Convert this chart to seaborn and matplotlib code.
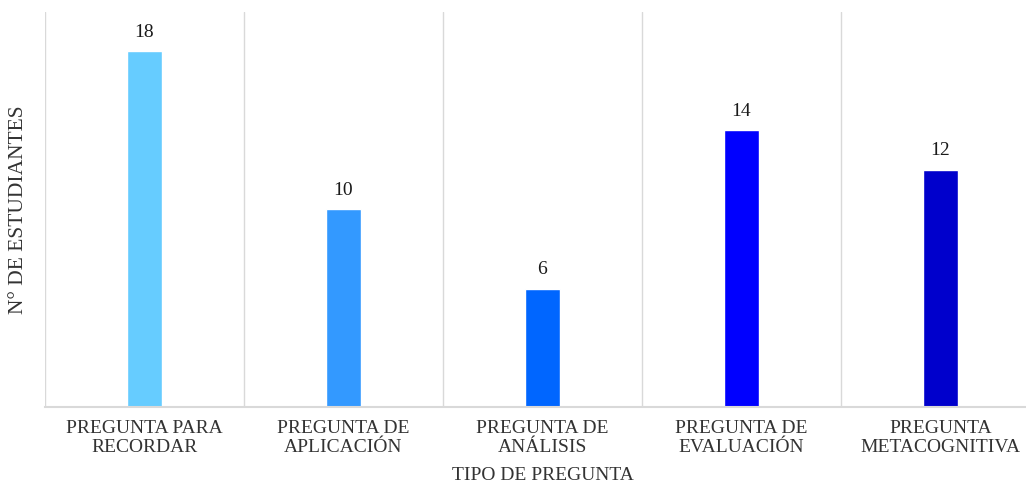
import matplotlib
matplotlib.use("Agg")
import matplotlib.pyplot as plt
import seaborn as sns
import pandas as pd

categories = ["PREGUNTA PARA\nRECORDAR", "PREGUNTA DE\nAPLICACIÓN", "PREGUNTA DE\nANÁLISIS",
              "PREGUNTA DE\nEVALUACIÓN", "PREGUNTA\nMETACOGNITIVA"]
values = [18, 10, 6, 14, 12]
colors = ["#66CCFF", "#3399FF", "#0066FF", "#0000FF", "#0000CC"]

sns.set_style("white")
plt.rcParams['font.family'] = ['Liberation Serif', 'DejaVu Serif']

df = pd.DataFrame({"cat": categories, "val": values})
fig = plt.figure(figsize=(10.26, 4.86), dpi=100)
ax = fig.add_axes([45/1026, (486-407)/486, (1040-45)/1026, (407-12)/486])
sns.barplot(data=df, x="cat", y="val", hue="cat", palette=colors, width=0.18,
            legend=False, ax=ax, saturation=1)
ax.set_xlim(-0.5, 4.5)
ax.set_ylim(0, 20)
for i in range(6):
    ax.axvline(i - 0.5, color="#d9d9d9", lw=1, zorder=0)
for i, v in enumerate(values):
    ax.text(i, v + 0.55, str(v), ha="center", va="bottom", fontsize=14, color="#1a1a1a")
for s in ["top", "right", "left"]:
    ax.spines[s].set_visible(False)
ax.spines["bottom"].set_color("#d9d9d9")
ax.spines["bottom"].set_linewidth(1.5)
ax.set_yticks([])
ax.tick_params(axis="x", length=0, pad=9, labelsize=14, labelcolor="#333333")
for lbl in ax.get_xticklabels():
    lbl.set_linespacing(1.2)
ax.set_xlabel("TIPO DE PREGUNTA", fontsize=14, color="#333333", labelpad=8)
ax.set_ylabel("N° DE ESTUDIANTES", fontsize=15.5, color="#333333", labelpad=12)
fig.savefig("out.png", dpi=100)
